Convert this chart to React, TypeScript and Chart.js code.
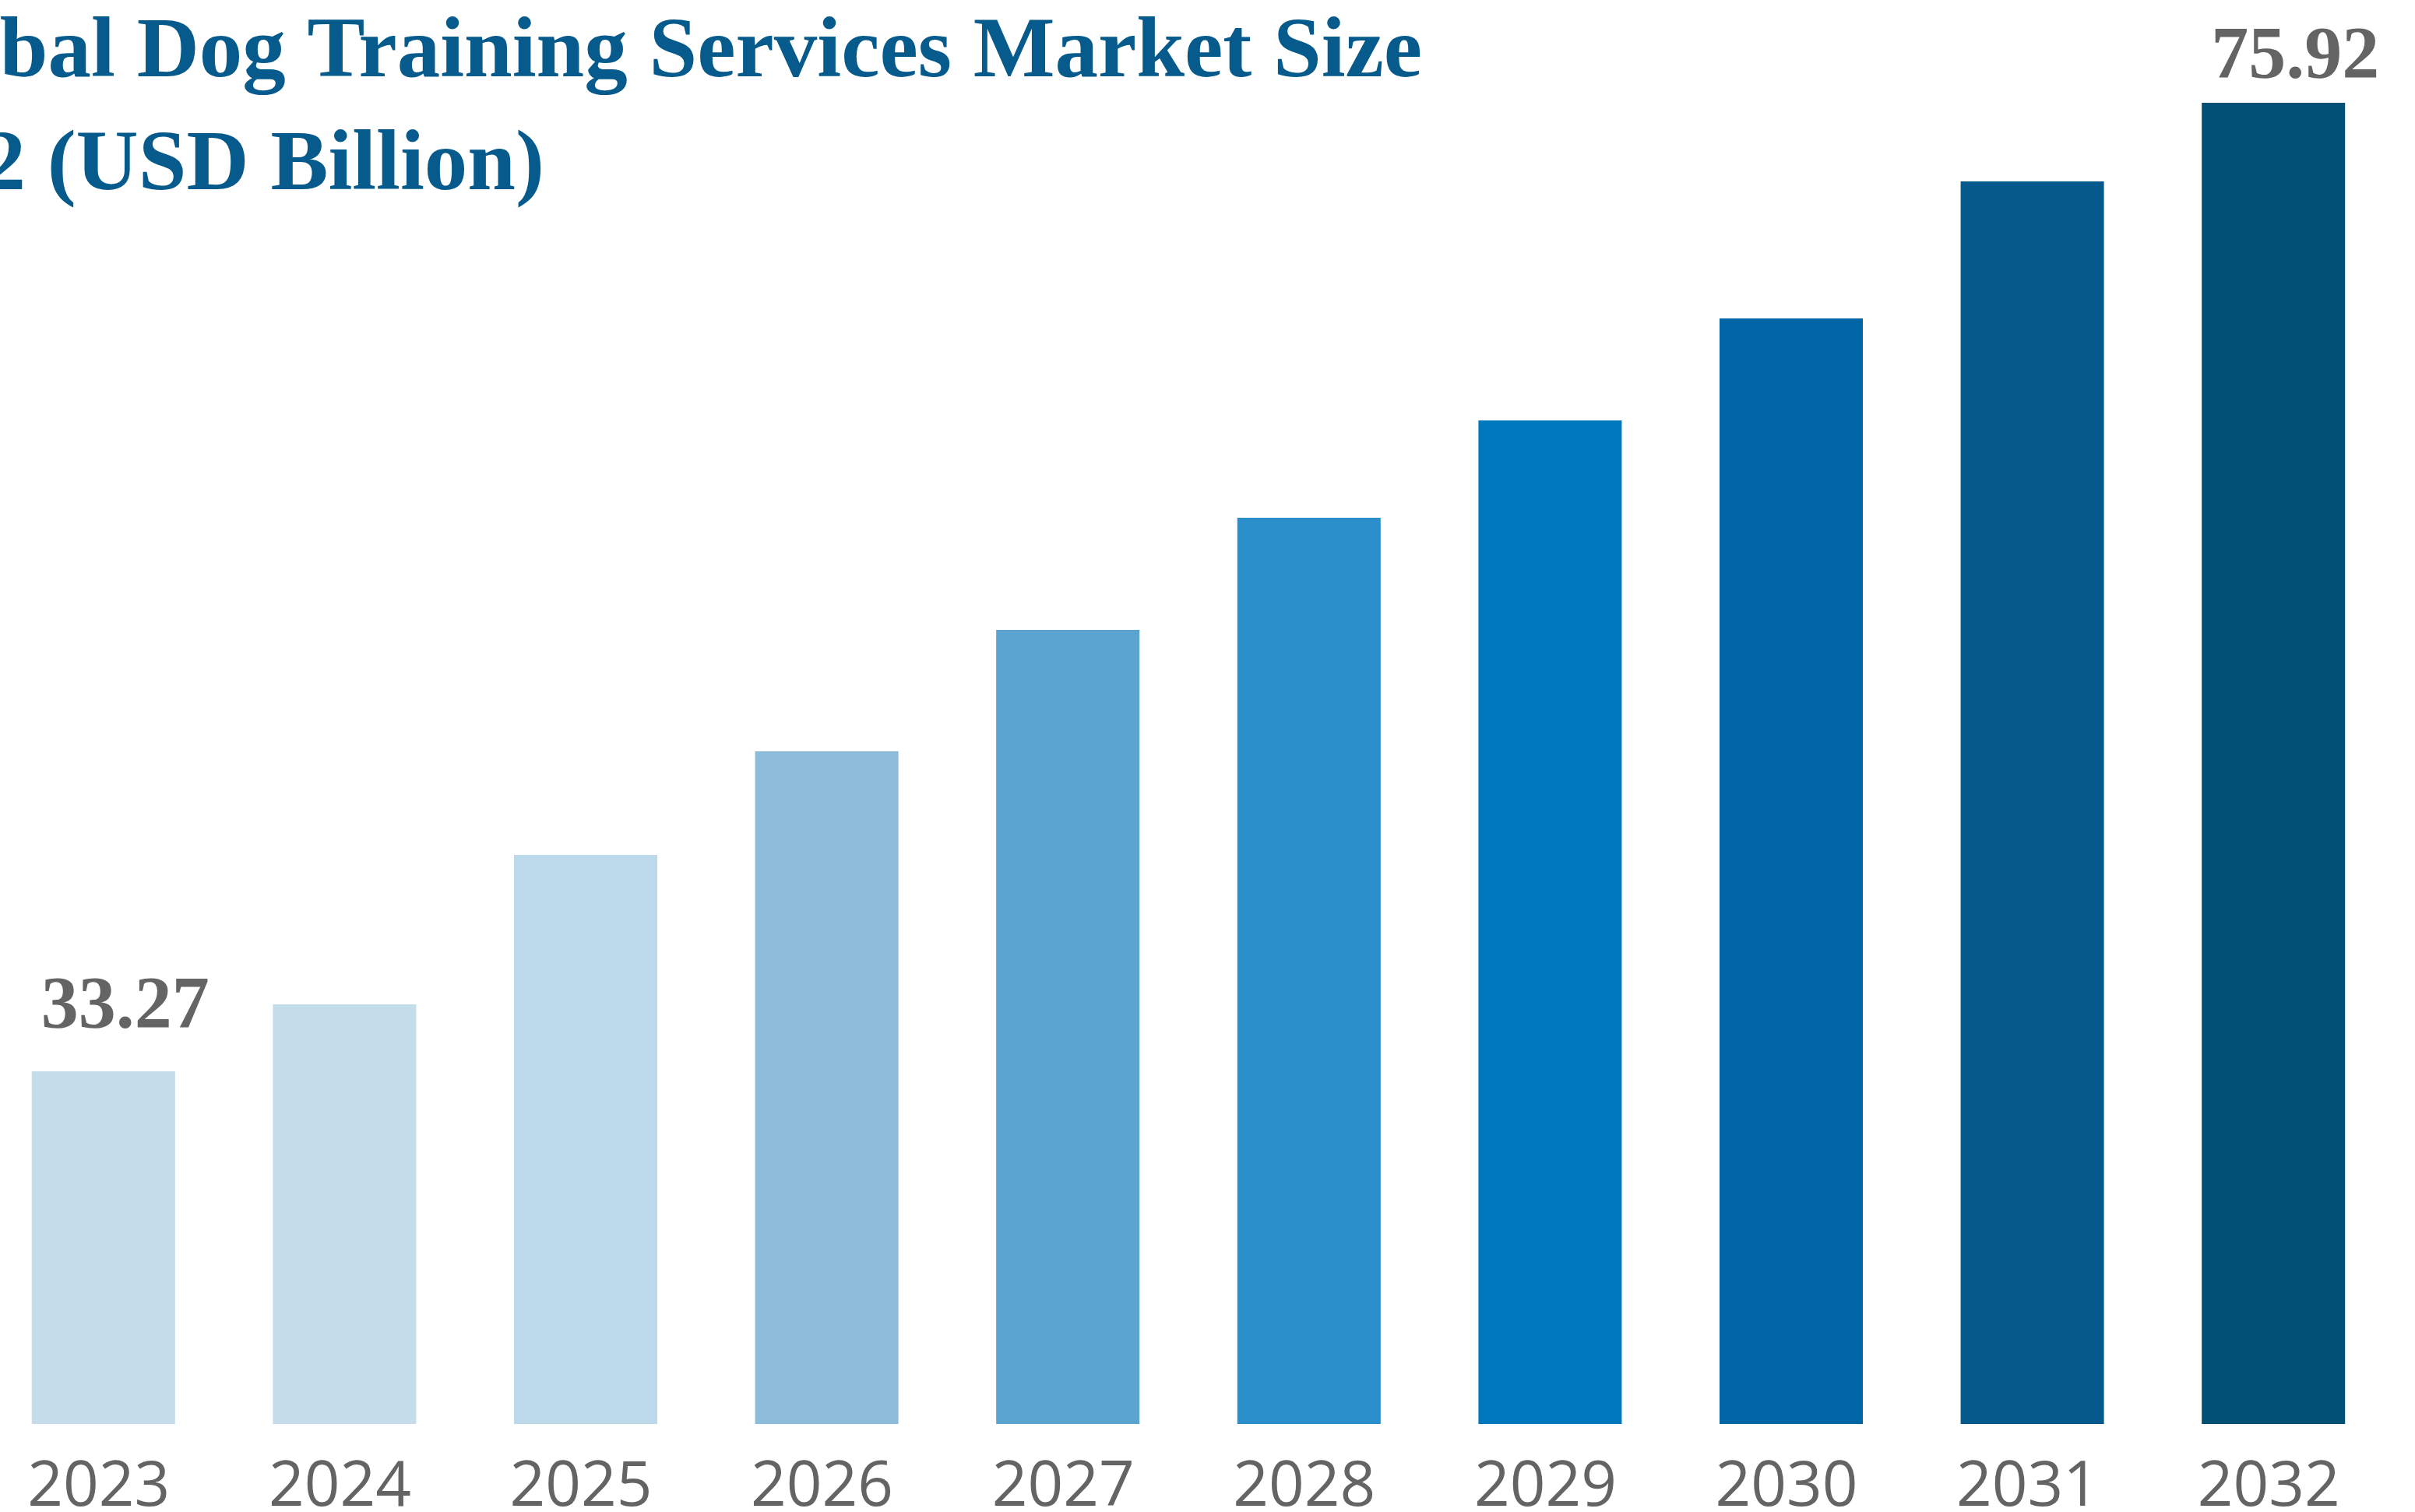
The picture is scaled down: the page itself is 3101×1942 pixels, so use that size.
import React, { useEffect, useRef } from "react";
import { Chart, registerables } from "chart.js";

Chart.register(...registerables);

const years = ["2023", "2024", "2025", "2026", "2027", "2028", "2029", "2030", "2031", "2032"];
const marketSize = [33.27, 36.22, 42.8, 47.36, 52.71, 57.65, 61.93, 66.42, 72.46, 75.92];
const valueLabels = ["33.27", "", "", "", "", "", "", "", "", "75.92"];
const barColors = [
  "#C5DCEA",
  "#C5DCEA",
  "#BCD9EA",
  "#8CBCDA",
  "#5BA4CF",
  "#2A8FCA",
  "#0078BE",
  "#0066A6",
  "#055A8B",
  "#025075",
];
const titleLines = ["Global Dog Training Services Market Size", "2023 to 2032 (USD Billion)"];

const CANVAS_W = 3201;
const CANVAS_H = 1942;
const SHIFT = 100; // canvas is shifted left by this many px

export default function App() {
  const ref = useRef<HTMLCanvasElement | null>(null);

  useEffect(() => {
    if (!ref.current) return;
    const overlay = {
      id: "overlay",
      afterDatasetsDraw(chart: any) {
        const ctx = chart.ctx;
        ctx.save();
        // title
        ctx.fillStyle = "#065B8C";
        ctx.font = 'bold 111px "Liberation Serif", "Times New Roman", serif';
        ctx.textAlign = "right";
        ctx.textBaseline = "alphabetic";
        ctx.fillText(titleLines[0], 1826 + SHIFT, 98);
        ctx.fillText(titleLines[1], 699 + SHIFT, 243);
        // value labels
        const meta = chart.getDatasetMeta(0);
        ctx.fillStyle = "#646464";
        ctx.font = 'bold 96px "Liberation Serif", "Times New Roman", serif';
        ctx.textAlign = "center";
        const gaps: Record<number, number> = { 0: 56, 9: 32 };
        meta.data.forEach((bar: any, i: number) => {
          const t = valueLabels[i];
          if (!t) return;
          const gap = gaps[i] ?? 44;
          ctx.fillText(t, bar.x + 28, bar.y - gap);
        });
        ctx.restore();
      },
    };

    const chart = new Chart(ref.current, {
      type: "bar",
      data: {
        labels: years,
        datasets: [
          {
            data: marketSize,
            backgroundColor: barColors,
            borderWidth: 0,
            categoryPercentage: 1,
            barPercentage: 0.5944,
          },
        ],
      },
      options: {
        responsive: false,
        animation: false,
        devicePixelRatio: 1,
        layout: { padding: { left: 78, right: 27, top: 132, bottom: 0 } },
        plugins: {
          legend: { display: false },
          title: { display: false },
          tooltip: { enabled: false },
        },
        scales: {
          x: {
            grid: { display: false, drawTicks: false },
            border: { display: false },
            ticks: {
              color: "#646464",
              padding: 34,
              labelOffset: -6,
              font: { family: '"Open Sans", "Noto Sans", sans-serif', size: 80 },
            },
            afterFit: (scale: any) => {
              scale.height = 113;
            },
          },
          y: {
            display: false,
            min: 17.74,
            max: 75.92,
          },
        },
      },
      plugins: [overlay],
    });
    return () => chart.destroy();
  }, []);

  return (
    <div
      style={{
        position: "fixed",
        left: -SHIFT,
        top: 0,
        width: CANVAS_W,
        height: CANVAS_H,
        background: "#ffffff",
      }}
    >
      <canvas ref={ref} width={CANVAS_W} height={CANVAS_H} style={{ width: CANVAS_W, height: CANVAS_H, display: "block" }} />
    </div>
  );
}
